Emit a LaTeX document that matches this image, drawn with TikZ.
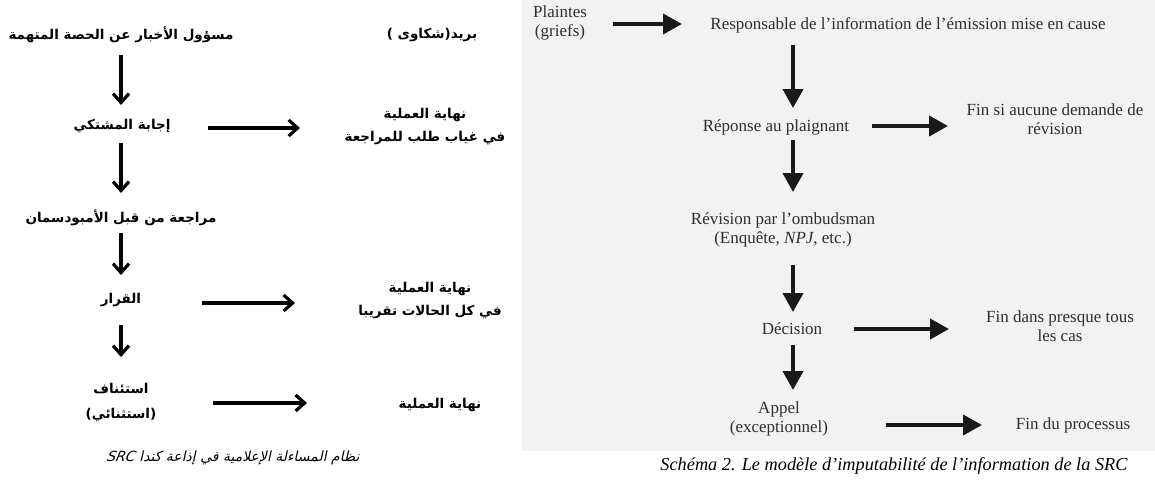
\documentclass[tikz,border=0pt]{standalone}
\usepackage{fontspec}
\setmainfont{Liberation Serif}
\newfontfamily\arabicfont[Script=Arabic]{DejaVu Sans}
\newfontfamily\arabicslant[Script=Arabic,FakeSlant=0.22]{DejaVu Sans}
\TeXXeTstate=1
\usetikzlibrary{arrows.meta}
\begin{document}
\begin{tikzpicture}[x=1pt,y=-1pt,
  ar/.style={font=\arabicfont\bfseries\fontsize{13.5}{23}\selectfont, align=center, inner sep=0pt},
  fr/.style={font=\fontsize{17}{18.5}\selectfont, text=black!82, align=center, inner sep=0pt},
  larr/.style={line width=3.2pt, -{Straight Barb[length=9pt,width=16pt]}},
  rarr/.style={draw=black!90, line width=4pt, -{Triangle[length=19pt,width=20pt]}},
]
\useasboundingbox (0,0) rectangle (1155,482);
% panel behind the French chart
\fill[black!5] (522,0) rectangle (1155,451);

% ---------- Arabic chart ----------
\node[ar] (L0) at (432,35) {\beginR بريد(شكاوى )\endR};
\node[ar] (L1) at (121,35) {\beginR مسؤول الأخبار عن الحصة المتهمة\endR};
\node[ar] (L2) at (122,126) {\beginR إجابة المشتكي\endR};
\node[ar] (L2e) at (425,127) {\beginR نهاية العملية\endR\\\beginR في غياب طلب للمراجعة\endR};
\node[ar] (L3) at (121,218) {\beginR مراجعة من قبل الأمبودسمان\endR};
\node[ar] (L4) at (121,300) {\beginR القرار\endR};
\node[ar] (L4e) at (430,301) {\beginR نهاية العملية\endR\\\beginR في كل الحالات تقريبا\endR};
\node[ar, font=\arabicfont\bfseries\fontsize{13.5}{25}\selectfont] (L5) at (121,403) {\beginR استئناف\endR\\\beginR (استثنائي)\endR};
\node[ar] (L5e) at (440,405) {\beginR نهاية العملية\endR};
\node[inner sep=0pt, font=\arabicslant\fontsize{14}{16}\selectfont] (Lcap) at (233,458)
  {\beginR نظام المساءلة الإعلامية في إذاعة كندا \beginL\itshape SRC\endL\endR};

\draw[larr] ([yshift=-20pt]L1.center) -- ([xshift=-1pt,yshift=21pt]L2.center);
\draw[larr] ([xshift=-1pt,yshift=-17pt]L2.center) -- ([yshift=25pt]L3.center);
\draw[larr] ([yshift=-15pt]L3.center) -- ([yshift=25pt]L4.center);
\draw[larr] ([yshift=-25pt]L4.center) -- ([yshift=46pt]L5.center);
\draw[larr] ([xshift=86pt,yshift=-2pt]L2.center) -- ([xshift=-125pt,yshift=-1pt]L2e.center);
\draw[larr] ([xshift=81pt,yshift=-3pt]L4.center) -- ([xshift=-135pt,yshift=-2pt]L4e.center);
\draw[larr] ([xshift=92pt]L5.center) -- ([xshift=-133pt,yshift=2pt]L5e.center);

% ---------- French chart ----------
\node[fr] (P) at (560,23) {Plaintes\\(griefs)};
\node[fr] (Q) at (908,25) {Responsable de l’information de l’émission mise en cause};
\node[fr] (R) at (776,127) {Réponse au plaignant};
\node[fr] (S) at (1055,119) {Fin si aucune demande de\\révision};
\node[fr] (T) at (783,230) {Révision par l’ombudsman\\(Enquête, \textit{NPJ}, etc.)};
\node[fr] (U) at (792,329) {Décision};
\node[fr] (V) at (1060,326) {Fin dans presque tous\\les cas};
\node[fr] (W) at (779,419) {Appel\\(exceptionnel)};
\node[fr] (X) at (1073,425) {Fin du processus};
\node[inner sep=0pt, font=\itshape\fontsize{18.3}{20}\selectfont] (Fcap) at (894,466)
  {Schéma 2. Le modèle d’imputabilité de l’information de la SRC};

\draw[rarr] ([xshift=53pt,yshift=-1pt]P.center) -- ([xshift=-226pt,yshift=1pt]Q.center);
\draw[rarr] ([xshift=-115pt,yshift=-20pt]Q.center) -- ([xshift=17pt,yshift=19pt]R.center);
\draw[rarr] ([xshift=96pt,yshift=1pt]R.center) -- ([xshift=-107pt,yshift=-7pt]S.center);
\draw[rarr] ([xshift=17pt,yshift=-13pt]R.center) -- ([xshift=10pt,yshift=38pt]T.center);
\draw[rarr] ([xshift=10pt,yshift=-35pt]T.center) -- ([xshift=1pt,yshift=17pt]U.center);
\draw[rarr] ([xshift=62pt]U.center) -- ([xshift=-111pt,yshift=-3pt]V.center);
\draw[rarr] ([xshift=1pt,yshift=-16pt]U.center) -- ([xshift=14pt,yshift=29pt]W.center);
\draw[rarr] ([xshift=107pt,yshift=-6pt]W.center) -- ([xshift=-91pt]X.center);
\end{tikzpicture}
\end{document}
